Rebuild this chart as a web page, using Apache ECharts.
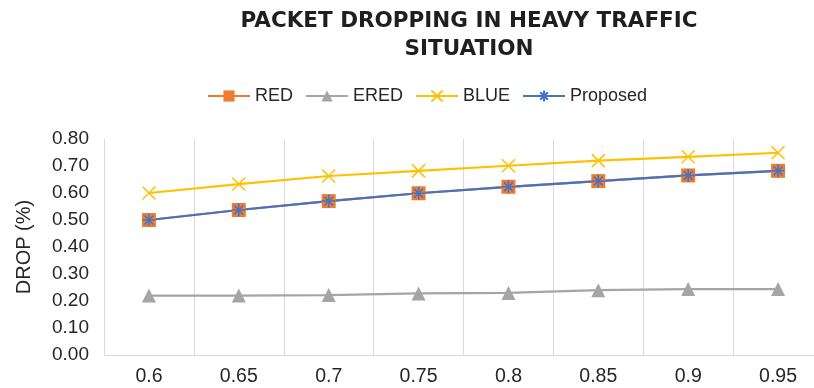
<!DOCTYPE html>
<html><head><meta charset="utf-8">
<script src="https://cdn.jsdelivr.net/npm/echarts@6/dist/echarts.min.js"></script>
<style>html,body{margin:0;padding:0;background:#fff;overflow:hidden;width:814px;height:388px}#c{width:830px;height:388px}</style>
</head><body><div id="c"></div>
<script>
const categories = ['0.6','0.65','0.7','0.75','0.8','0.85','0.9','0.95'];
const redValues = [0.50, 0.537, 0.570, 0.599, 0.623, 0.644, 0.665, 0.682];
const eredValues = [0.22, 0.22, 0.222, 0.228, 0.23, 0.24, 0.244, 0.244];
const blueValues = [0.60, 0.633, 0.663, 0.682, 0.701, 0.72, 0.734, 0.749];
const proposedValues = [0.50, 0.537, 0.570, 0.599, 0.623, 0.644, 0.665, 0.682];
const yTicks = [0, 0.1, 0.2, 0.3, 0.4, 0.5, 0.6, 0.7, 0.8];

const font = 'Liberation Sans, Arial, sans-serif';
const X_PATH = 'path://M0,0L10,10M10,0L0,10';
const STAR_PATH = 'path://M5,0L5,10M0,5L10,5M1.6,1.6L8.4,8.4M8.4,1.6L1.6,8.4';

const chart = echarts.init(document.getElementById('c'));
chart.setOption({
  animation: false,
  backgroundColor: '#fff',
  title: {
    text: 'PACKET DROPPING IN HEAVY TRAFFIC\nSITUATION',
    left: 464, textAlign: 'center', top: 3,
    textStyle: { fontFamily: 'DejaVu Sans', fontSize: 21.5, fontWeight: 'bold', color: '#1f1f1f', lineHeight: 27.5 }
  },
  legend: {
    top: 87, left: 207, padding: 0,
    itemWidth: 42, itemHeight: 14, itemGap: 12,
    textStyle: { fontFamily: font, fontSize: 18, color: '#262626' },
    data: ['RED', 'ERED', 'BLUE', 'Proposed']
  },
  grid: { left: 104, right: 7, top: 139, bottom: 33, containLabel: false },
  xAxis: {
    type: 'category', data: categories, boundaryGap: true,
    axisLine: { lineStyle: { color: '#d9d9d9', width: 1 } },
    axisTick: { show: false },
    splitLine: { show: true, lineStyle: { color: '#d9d9d9', width: 1 } },
    axisLabel: { fontFamily: font, fontSize: 19.5, color: '#262626', margin: 12 }
  },
  yAxis: {
    type: 'value', min: 0, max: 0.8, interval: 0.1,
    name: 'DROP (%)', nameLocation: 'middle', nameGap: 70, nameRotate: 90,
    nameTextStyle: { fontFamily: font, fontSize: 20, color: '#262626' },
    axisLine: { show: false }, axisTick: { show: false },
    splitLine: { show: false },
    axisLabel: { fontFamily: font, fontSize: 19, color: '#262626', margin: 15,
      formatter: v => v.toFixed(2) }
  },
  series: [
    { name: 'RED', type: 'line', data: redValues, symbol: 'rect', symbolSize: 14,
      lineStyle: { color: '#ED7D31', width: 2.2 }, itemStyle: { color: '#ED7D31' } },
    { name: 'ERED', type: 'line', data: eredValues, symbol: 'triangle', symbolSize: 14,
      lineStyle: { color: '#A5A5A5', width: 2.2 }, itemStyle: { color: '#A5A5A5' } },
    { name: 'BLUE', type: 'line', data: blueValues, symbol: X_PATH, symbolSize: 13,
      lineStyle: { color: '#FFC000', width: 2.2 },
      itemStyle: { color: 'rgba(0,0,0,0)', borderColor: '#FFC000', borderWidth: 1.5 } },
    { name: 'Proposed', type: 'line', data: proposedValues, symbol: STAR_PATH, symbolSize: 13,
      lineStyle: { color: '#4472C4', width: 2.2 },
      itemStyle: { color: 'rgba(0,0,0,0)', borderColor: '#4472C4', borderWidth: 1.5 } }
  ]
});
</script></body></html>
